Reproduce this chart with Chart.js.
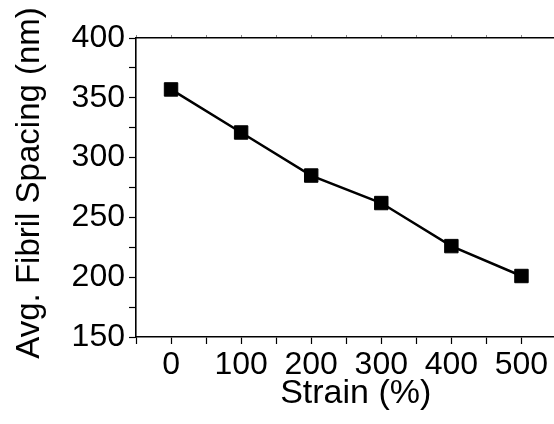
<!DOCTYPE html>
<html>
<head>
<meta charset="utf-8">
<script src="https://cdn.jsdelivr.net/npm/chart.js@4.4.1/dist/chart.umd.min.js"></script>
<style>
    html, body { margin: 0; padding: 0; background: #fff; overflow: hidden; }
    #wrap { width: 567px; height: 424px; }
</style>
</head>
<body>
<div id="wrap"><canvas id="chart" width="567" height="424"></canvas></div>
<script>
// Values.
const strain = [0, 100, 200, 300, 400, 500];
const spacing = [357, 321, 285, 262, 226, 201];
const xLabels = [0, 100, 200, 300, 400, 500];
const yLabels = [150, 200, 250, 300, 350, 400];

const FONT = "'Liberation Sans', Arial, sans-serif";
const INK = '#000';

const points = strain.map((x, i) => ({ x, y: spacing[i] }));

new Chart(document.getElementById('chart'), {
    type: 'scatter',
    data: {
        datasets: [{
            data: points,
            showLine: true,
            borderColor: INK,
            borderWidth: 2.5,
            pointStyle: 'rect',
            pointRadius: 9.5,
            pointBackgroundColor: INK,
            pointBorderColor: INK,
            pointBorderWidth: 1,
        }],
    },
    options: {
        responsive: false,
        animation: false,
        devicePixelRatio: 1,
        layout: { padding: { left: 0, right: 4, top: 0, bottom: 0 } },
        plugins: { legend: { display: false }, tooltip: { enabled: false } },
        scales: {
            x: {
                type: 'linear',
                position: 'bottom',
                min: -50,
                max: 550,
                afterFit: (s) => { s.height = 87; },
                ticks: {
                    stepSize: 50,
                    autoSkip: false,
                    maxRotation: 0,
                    padding: 2,
                    color: INK,
                    font: { family: FONT, size: 32 },
                    callback: (v) => xLabels.includes(v) ? String(v) : '',
                },
                grid: { drawOnChartArea: false, tickLength: 7, tickColor: INK, tickWidth: 1.2 },
                border: { color: INK, width: 1.6 },
                title: {
                    display: true,
                    text: '  Strain (%)',
                    color: INK,
                    font: { family: FONT, size: 34 },
                    padding: { top: 0, bottom: 10 },
                },
            },
            x2: {
                type: 'linear',
                position: 'top',
                min: -50,
                max: 550,
                afterFit: (s) => { s.height = 38; },
                ticks: { stepSize: 50, display: false },
                grid: { drawOnChartArea: false, tickLength: 3, tickColor: '#888', tickWidth: 1 },
                border: { color: INK, width: 1.6 },
            },
            y: {
                type: 'linear',
                position: 'left',
                min: 150,
                max: 400,
                afterFit: (s) => { s.width = 136; },
                ticks: {
                    stepSize: 25,
                    autoSkip: false,
                    padding: 4,
                    color: INK,
                    font: { family: FONT, size: 32 },
                    callback: (v) => yLabels.includes(v) ? String(v) : '',
                },
                grid: { drawOnChartArea: false, tickLength: 7, tickColor: INK, tickWidth: 1.2 },
                border: { color: INK, width: 1.6 },
                title: {
                    display: true,
                    text: ' Avg. Fibril Spacing (nm)',
                    color: INK,
                    font: { family: FONT, size: 33 },
                    padding: { top: 10, bottom: 0 },
                },
            },
        },
    },
});
</script>
</body>
</html>
